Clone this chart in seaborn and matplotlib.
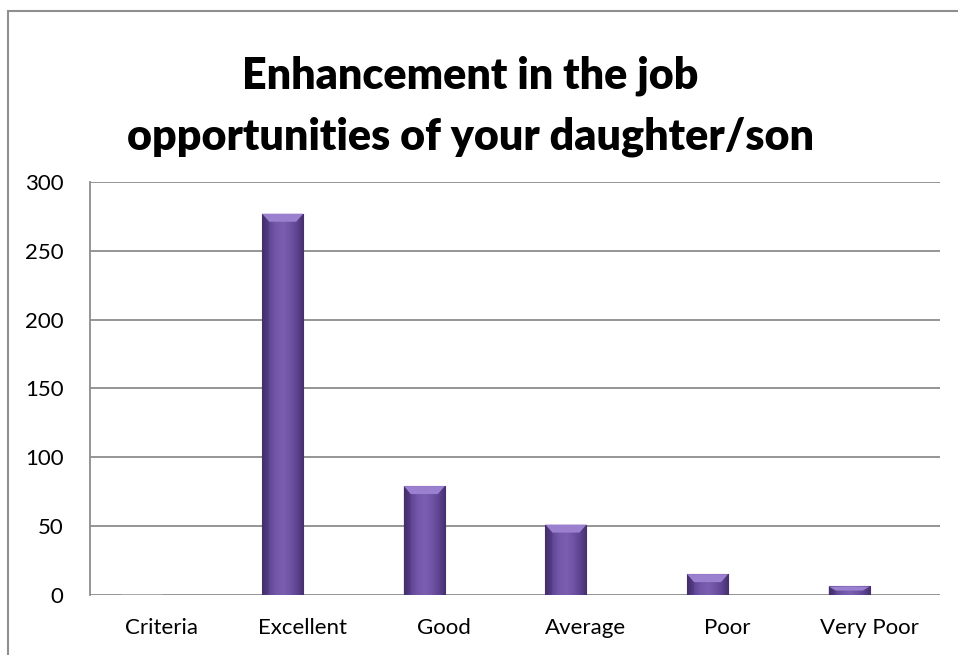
import numpy as np
import pandas as pd
import matplotlib
matplotlib.use("Agg")
import matplotlib.pyplot as plt
import matplotlib.transforms as mtransforms
from matplotlib.colors import LinearSegmentedColormap
from matplotlib.patches import Polygon, Rectangle
import seaborn as sns

categories = ["Criteria", "Excellent", "Good", "Average", "Poor", "Very Poor"]
responses = [0, 277, 79, 51, 15, 6]
y_ticks = [0, 50, 100, 150, 200, 250, 300]
title_lines = ["Enhancement in the job", "opportunities of your daughter/son"]

df = pd.DataFrame({"category": categories, "count": responses})

sns.set_theme(style="white")
plt.rcParams["font.family"] = ["Lato", "DejaVu Sans"]

fig = plt.figure(figsize=(9.58, 6.55), dpi=100)
ax = fig.add_axes([0.094, 0.092, 0.887, 0.630])

sns.barplot(data=df, x="category", y="count", color="#6a4c9c", width=0.29,
            saturation=1, ax=ax, zorder=3)

ax.set_ylim(0, 300)
ax.set_yticks(y_ticks)
ax.set_xlim(-0.36, len(categories) - 0.36)
ax.yaxis.grid(True, color="#8c8c8c", linewidth=1.3, zorder=0)
ax.xaxis.grid(False)
for side in ["top", "right", "bottom"]:
    ax.spines[side].set_visible(False)
ax.spines["left"].set_color("#8c8c8c")
ax.spines["left"].set_linewidth(1.3)
ax.set_xlabel("")
ax.set_ylabel("")
ax.tick_params(axis="both", length=0, labelsize=16, colors="black")
ax.tick_params(axis="y", pad=19)
ax.tick_params(axis="x", pad=17)

# category labels sit at the slot centres, columns are drawn slightly to the left
shift = mtransforms.ScaledTranslation(20 / 100, 0, fig.dpi_scale_trans)
for lab in ax.get_xticklabels():
    lab.set_transform(lab.get_transform() + shift)

# shaded column faces with a bevelled top
cmap = LinearSegmentedColormap.from_list(
    "col", ["#44306a", "#614697", "#7357a8", "#7b5eb1", "#7055a6", "#5e4392", "#44306a"])
grad = np.linspace(0, 1, 256).reshape(1, -1)
fig.canvas.draw()
inv = ax.transData.inverted()
for p in list(ax.patches):
    x0, w, h = p.get_x(), p.get_width(), p.get_height()
    if h <= 0:
        continue
    p.set_edgecolor("#4a3372")
    p.set_linewidth(0.8)
    im = ax.imshow(grad, cmap=cmap, aspect="auto", extent=(x0, x0 + w, 0, h),
                   zorder=3.5, interpolation="bicubic")
    im.set_clip_path(p)
    # bevel size in data units from a fixed pixel size
    px0 = ax.transData.transform((x0, 0))
    b = inv.transform((px0[0] + 7, px0[1] + 8)) - np.array([x0, 0])
    bx, by = b[0], min(b[1], h / 2)
    top = Polygon([(x0, h), (x0 + w, h), (x0 + w - bx, h - by), (x0 + bx, h - by)],
                  closed=True, facecolor="#9c80d0", edgecolor="none", zorder=4)
    ax.add_patch(top)
    left = Polygon([(x0, h), (x0 + bx, h - by), (x0 + bx, 0), (x0, 0)],
                   closed=True, facecolor="#3f2a63", alpha=0.3, edgecolor="none", zorder=4)
    ax.add_patch(left)
ax.set_xlim(-0.36, len(categories) - 0.36)
ax.set_ylim(0, 300)

for line, ybase in zip(title_lines, [1 - 88 / 655, 1 - 150 / 655]):
    fig.text(0.491, ybase, line, ha="center", va="baseline", fontsize=31,
             fontweight="heavy", color="black")

# outer chart frame
fig.patches.append(Rectangle((7.5 / 958, -0.1), 1.2, 1 - 11 / 655 + 0.1,
                             transform=fig.transFigure, fill=False,
                             edgecolor="#8f8f8f", linewidth=1.5))

fig.savefig("out.png", dpi=100, facecolor="white")
